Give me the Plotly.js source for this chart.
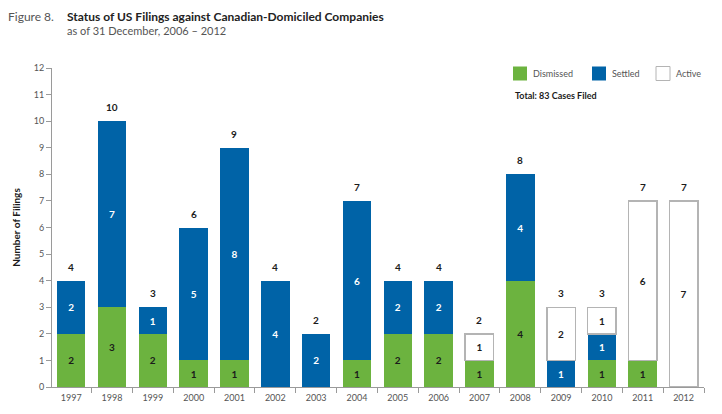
<!DOCTYPE html>
<html>
<head>
<meta charset="utf-8">
<script src="https://cdn.plot.ly/plotly-3.0.1.min.js"></script>
<style>html,body{margin:0;padding:0;background:#fff;}#chart{width:722px;height:414px;}</style>
</head>
<body>
<div id="chart"></div>
<script>
// ---- Data ----
const years = ['1997','1998','1999','2000','2001','2002','2003','2004','2005','2006','2007','2008','2009','2010','2011','2012'];
const dismissed = [2,3,2,1,1,0,0,1,2,2,1,4,0,1,1,0];
const settled   = [2,7,1,5,8,4,2,6,2,2,0,4,1,1,0,0];
const active    = [0,0,0,0,0,0,0,0,0,0,1,0,2,1,6,7];
const totals    = [4,10,3,6,9,4,2,7,4,4,2,8,3,3,7,7];
const seriesNames = ['Dismissed','Settled','Active'];
const totalLabel = 'Total: 83 Cases Filed';

// ---- Styles ----
const FONT = "Lato, 'Open Sans', 'DejaVu Sans', sans-serif";
const GREEN = '#6cb33f';
const BLUE = '#0063a7';
const GRAY_LINE = '#9a9a9a';
const ACTIVE_BORDER = '#b4b4b4';

// plot area in pixels: left 52, right 704, top 68, bottom 387
const PL = 52, PR = 704, PT = 68, PB = 387;
const px = x => (x - PL) / (PR - PL);
const py = y => (PB - y) / (PB - PT);

const lab = arr => arr.map(v => v > 0 ? String(v) : '');

function barTrace(name, vals, fill, textColor, line) {
  return {
    type: 'bar', x: years, y: vals, name: name,
    marker: { color: fill, line: line || { width: 0 } },
    text: lab(vals), textposition: 'inside', insidetextanchor: 'middle',
    textangle: 0,
    textfont: { family: FONT, size: 10, color: textColor, weight: 'bold' },
    hoverinfo: 'x+y+name'
  };
}

const data = [
  barTrace(seriesNames[0], dismissed, GREEN, '#1b1b1b'),
  barTrace(seriesNames[1], settled, BLUE, '#ffffff'),
  barTrace(seriesNames[2], active, '#ffffff', '#1b1b1b',
    { color: ACTIVE_BORDER, width: active.map(v => v > 0 ? 1.5 : 0) })
];

const annotations = [];
years.forEach((yr, i) => {
  annotations.push({
    x: i, y: totals[i], xref: 'x', yref: 'y', text: String(totals[i]),
    showarrow: false, yanchor: 'middle', xanchor: 'center', yshift: 14,
    font: { family: FONT, size: 10, color: '#1b1b1b', weight: 'bold' }
  });
});
// titles
annotations.push({ xref: 'paper', yref: 'paper', x: px(6), y: py(16), xanchor: 'left', yanchor: 'middle', showarrow: false,
  text: 'Figure 8.', font: { family: FONT, size: 12, color: '#555' } });
annotations.push({ xref: 'paper', yref: 'paper', x: px(65), y: py(16), xanchor: 'left', yanchor: 'middle', showarrow: false,
  text: 'Status of US Filings against Canadian-Domiciled Companies', font: { family: FONT, size: 12, color: '#222', weight: 'bold' } });
annotations.push({ xref: 'paper', yref: 'paper', x: px(65), y: py(30), xanchor: 'left', yanchor: 'middle', showarrow: false,
  text: 'as of 31 December, 2006 – 2012', font: { family: FONT, size: 11, color: '#555' } });
// legend texts
const legX = [513, 592, 656];
const legTextX = [531, 610, 674];
const legFill = [GREEN, BLUE, '#ffffff'];
const shapes = [];
seriesNames.forEach((n, i) => {
  shapes.push({ type: 'rect', xref: 'paper', yref: 'paper',
    x0: px(legX[i]), x1: px(legX[i] + 14), y0: py(80.5), y1: py(66.5),
    fillcolor: legFill[i], line: { color: i === 2 ? ACTIVE_BORDER : legFill[i], width: i === 2 ? 1 : 0 } });
  annotations.push({ xref: 'paper', yref: 'paper', x: px(legTextX[i]), y: py(73.5), xanchor: 'left', yanchor: 'middle', showarrow: false,
    text: n, font: { family: FONT, size: 9, color: '#555' } });
});
annotations.push({ xref: 'paper', yref: 'paper', x: px(513), y: py(95), xanchor: 'left', yanchor: 'middle', showarrow: false,
  text: totalLabel, font: { family: FONT, size: 9, color: '#1b1b1b', weight: 'bold' } });

const layout = {
  width: 722, height: 414,
  margin: { l: PL, r: 722 - PR, t: PT, b: 414 - PB, pad: 0 },
  paper_bgcolor: '#fff', plot_bgcolor: '#fff',
  barmode: 'stack', bargap: 0.3,
  showlegend: false,
  font: { family: FONT },
  xaxis: {
    type: 'category', range: [-0.47, 15.5], showgrid: false, zeroline: false,
    showline: true, linecolor: GRAY_LINE, linewidth: 1,
    ticks: 'outside', tickson: 'boundaries', ticklen: 5, tickcolor: GRAY_LINE, tickwidth: 1,
    ticklabelstandoff: 2,
    tickfont: { family: FONT, size: 9, color: '#555' }, fixedrange: true
  },
  yaxis: {
    range: [0, 12], dtick: 1, showgrid: false, zeroline: false,
    showline: true, linecolor: GRAY_LINE, linewidth: 1,
    ticks: 'outside', ticklen: 5, tickcolor: GRAY_LINE, tickwidth: 1,
    tickfont: { family: FONT, size: 9, color: '#555' }, fixedrange: true,
    title: { text: 'Number of Filings', standoff: 11, font: { family: FONT, size: 10, color: '#1b1b1b', weight: 'bold' } }
  },
  annotations: annotations,
  shapes: shapes
};

Plotly.newPlot('chart', data, layout, { displayModeBar: false, staticPlot: true });
</script>
</body>
</html>
